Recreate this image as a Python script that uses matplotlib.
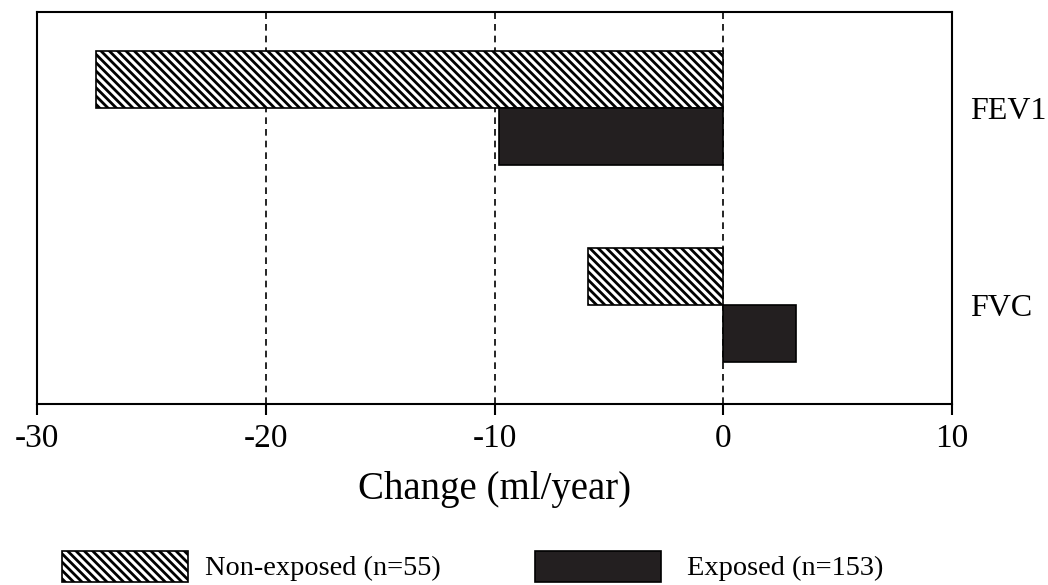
import matplotlib
matplotlib.use("Agg")
import matplotlib.pyplot as plt
from matplotlib.patches import Rectangle
import numpy as np

categories = ["FEV1", "FVC"]
non_exposed = [-27.4, -5.9]
exposed = [-9.8, 3.2]
series_labels = ["Non-exposed (n=55)", "Exposed (n=153)"]
xticks = [-30, -20, -10, 0, 10]

plt.rcParams['font.family'] = ['Liberation Serif', 'DejaVu Serif']
plt.rcParams['hatch.linewidth'] = 2.0
plt.rcParams['hatch.color'] = 'black'

fig = plt.figure(figsize=(10.48, 5.85), dpi=100)
ax = fig.add_axes([37/1048, 1-404/585, 915/1048, 392/585])

pos = np.array([1.0, 0.0])
h = 0.29
dark = '#231f20'
hatch = '\\\\\\\\'
ax.barh(pos + h/2, non_exposed, height=h, color='white', edgecolor='black',
        hatch=hatch, linewidth=1.2, zorder=3)
ax.barh(pos - h/2, exposed, height=h, color=dark, edgecolor='black',
        linewidth=1.2, zorder=3)

for x in [-20, -10, 0]:
    ax.axvline(x, color='black', linestyle=(0, (4, 3)), linewidth=1.2, zorder=1)

ax.set_xlim(-30, 10)
ax.set_ylim(-0.503, 1.487)
ax.set_xticks(xticks)
ax.set_xticklabels([str(t) for t in xticks])
ax.tick_params(axis='x', direction='out', length=8, width=1.5, labelsize=24, pad=6)
ax.yaxis.tick_right()
ax.set_yticks(pos)
ax.set_yticklabels(categories)
ax.tick_params(axis='y', length=0, labelsize=23, pad=13)
for s in ax.spines.values():
    s.set_linewidth(1.5)
ax.set_xlabel("Change (ml/year)", fontsize=28, labelpad=12)

# legend
fig.add_artist(Rectangle((62/1048, 1-582/585), 126/1048, 31/585, transform=fig.transFigure,
                         facecolor='white', edgecolor='black', hatch=hatch, linewidth=1.2))
fig.text(205/1048, 1-568/585, series_labels[0], fontsize=20.4, va='center', ha='left')
fig.add_artist(Rectangle((535/1048, 1-582/585), 126/1048, 31/585, transform=fig.transFigure,
                         facecolor=dark, edgecolor='black', linewidth=1.2))
fig.text(687/1048, 1-568/585, series_labels[1], fontsize=20.4, va='center', ha='left')

fig.savefig("out.png", dpi=100)
